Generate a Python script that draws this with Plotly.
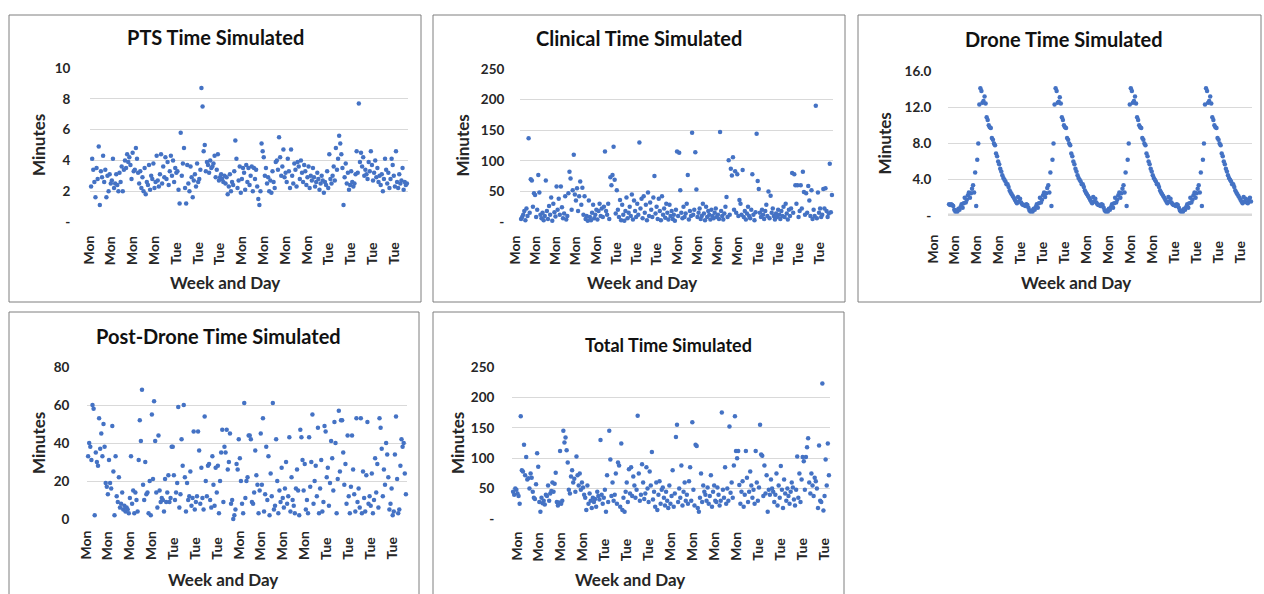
import plotly.graph_objects as go

W, H = 1264, 594          # reference picture size
TOP_PAD = 8               # vertical offset observed in the photographed output
HF = 610                  # figure height (output is squeezed to H - TOP_PAD rows)

# ---------------- data ----------------
pts_minutes = [
    2.3, 4.1, 3.4, 2.6, 1.6, 3.5, 2.8, 4.9, 1.1, 3.3, 2.9, 4.3, 2.6, 3.4, 1.6, 3.0, 2.0, 3.1, 2.5, 2.7,
    4.1, 2.2, 2.5, 3.1, 2.4, 2.0, 3.2, 2.6, 3.6, 2.0, 3.4, 4.0, 3.5, 4.4, 3.9, 4.2, 3.7, 2.8, 4.5, 3.3,
    3.4, 4.8, 4.1, 3.2, 2.5, 3.3, 2.2, 2.9, 2.0, 3.5, 1.8, 2.6, 2.4, 3.7, 2.1, 3.0, 2.8, 3.8, 2.2, 2.6,
    4.3, 2.7, 2.3, 3.1, 4.4, 2.5, 3.6, 2.9, 4.2, 2.8, 3.9, 2.4, 3.3, 4.3, 3.0, 4.0, 2.6, 3.5, 3.2, 3.3,
    2.1, 1.2, 5.8, 3.0, 3.8, 4.8, 2.2, 1.2, 3.7, 2.5, 2.0, 3.6, 2.9, 1.6, 2.7, 3.1, 2.3, 3.8, 2.6, 2.8,
    3.4, 8.7, 7.5, 4.6, 5.0, 3.3, 3.9, 3.7, 3.2, 4.0, 3.5, 3.6, 3.8, 4.3, 2.9, 3.4, 4.4, 2.7, 2.9, 3.1,
    2.8, 2.6, 3.0, 2.5, 2.9, 1.8, 2.3, 3.1, 2.0, 2.6, 2.4, 3.3, 5.3, 4.1, 2.2, 2.7, 3.6, 1.9, 2.8, 3.5,
    3.2, 2.1, 3.7, 2.6, 3.5, 2.4, 3.0, 3.6, 2.0, 3.5, 2.8, 3.4, 2.3, 1.5, 1.1, 2.0, 5.1, 4.6, 4.2, 3.0,
    3.5, 2.5, 2.9, 2.0, 2.7, 1.9, 3.3, 2.6, 2.2, 3.9, 4.0, 3.4, 5.5, 4.2, 3.0, 3.6, 4.7, 2.9, 3.2, 2.6,
    4.1, 3.3, 2.2, 4.7, 3.0, 2.5, 3.8, 3.4, 2.3, 3.9, 3.6, 2.8, 4.0, 3.2, 2.6, 3.7, 3.3, 2.4, 2.9, 3.6,
    2.2, 3.0, 2.7, 3.5, 2.9, 2.3, 2.6, 3.2, 2.8, 2.1, 2.5, 3.0, 2.7, 1.9, 2.6, 2.4, 3.3, 2.2, 4.4, 2.8,
    2.5, 3.0, 3.6, 2.7, 4.8, 3.4, 4.1, 5.6, 5.1, 4.4, 3.5, 1.1, 2.9, 3.8, 2.5, 3.2, 2.1, 2.4, 3.3, 2.6,
    2.3, 2.5, 3.1, 4.6, 3.2, 7.7, 3.9, 4.5, 3.6, 4.2, 3.0, 3.4, 3.1, 2.8, 3.9, 3.3, 4.6, 3.7, 2.7, 3.2,
    4.0, 2.9, 3.5, 2.6, 3.0, 2.4, 3.1, 2.0, 2.8, 4.1, 3.4, 2.5, 3.2, 2.2, 2.8, 4.1, 3.7, 3.0, 2.3, 4.6,
    2.6, 2.2, 3.1, 2.5, 2.7, 3.5, 2.1, 2.6, 2.4, 2.5,
]

clinical_minutes = [
    5, 8, 12, 18, 3, 22, 10, 137, 15, 70, 68, 25, 47, 44, 8, 20, 77, 48, 12, 6,
    15, 3, 10, 68, 18, 5, 26, 12, 40, 2, 30, 16, 9, 58, 20, 38, 12, 58, 24, 6,
    14, 42, 4, 10, 47, 82, 71, 20, 52, 110, 45, 35, 55, 18, 42, 66, 28, 56, 12, 42,
    5, 10, 2, 35, 8, 3, 15, 28, 6, 12, 20, 4, 18, 30, 10, 22, 8, 25, 115, 18,
    12, 30, 5, 73, 60, 77, 123, 69, 14, 52, 20, 8, 36, 3, 28, 12, 2, 18, 40, 6,
    15, 25, 10, 45, 4, 35, 18, 8, 30, 12, 130, 22, 38, 6, 42, 15, 28, 3, 48, 10,
    32, 20, 8, 40, 75, 14, 25, 5, 38, 18, 3, 42, 12, 22, 7, 30, 15, 4, 28, 10,
    18, 5, 12, 2, 20, 115, 10, 113, 52, 15, 6, 25, 8, 14, 30, 77, 4, 18, 10, 146,
    12, 20, 114, 53, 8, 15, 22, 5, 10, 30, 14, 3, 25, 8, 18, 12, 4, 20, 10, 6,
    15, 22, 8, 12, 5, 147, 18, 10, 4, 14, 25, 41, 8, 101, 12, 87, 76, 106, 20, 83,
    15, 78, 10, 36, 30, 12, 85, 8, 18, 4, 14, 25, 10, 6, 20, 78, 12, 3, 16, 144,
    67, 54, 15, 8, 20, 12, 5, 18, 28, 10, 50, 6, 43, 15, 22, 10, 4, 14, 8, 20,
    12, 5, 18, 10, 25, 8, 30, 14, 4, 20, 10, 22, 80, 15, 78, 60, 30, 60, 8, 18,
    60, 22, 82, 49, 12, 47, 15, 59, 35, 10, 52, 5, 20, 10, 190, 6, 48, 15, 22, 8,
    12, 54, 22, 55, 18, 8, 14, 95, 16, 44,
]

drone_minutes = [
    1.3, 1.2, 1.3, 1.2, 1.1, 0.7,
    # cycle 1
    0.5, 0.6, 0.5, 0.8, 0.7, 1.0, 1.3, 0.9, 1.4, 2.0, 1.5, 1.8, 2.3, 2.6, 2.0, 2.5, 3.0, 3.4,
    2.6, 4.8, 1.1, 6.2, 8.0, 12.3, 14.1, 13.8,
    12.5, 12.7, 13.2, 12.4, 10.9, 10.6, 10.0, 9.8, 9.7, 8.6, 8.4, 8.0, 7.8, 6.9, 6.6,
    6.0, 5.7, 5.2, 4.9, 4.5, 4.2, 4.0, 3.8, 3.5, 3.5, 3.2, 2.8, 2.6, 2.4, 2.2,
    2.0, 1.8, 1.6, 1.4, 2.1, 1.6, 1.9, 1.5, 1.3, 1.2, 1.2, 1.1, 1.3, 1.2, 0.9, 0.6,
    # cycle 2
    0.5, 0.6, 0.5, 0.8, 0.7, 1.0, 1.3, 0.9, 1.4, 2.0, 1.5, 1.8, 2.3, 2.6, 2.1, 2.5, 3.1, 3.4,
    2.6, 4.8, 1.1, 6.2, 8.0, 12.3, 14.1, 13.8,
    12.5, 12.6, 13.1, 12.4, 10.9, 10.6, 10.0, 9.8, 9.7, 8.6, 8.4, 8.0, 7.8, 6.9, 6.6,
    6.0, 5.7, 5.2, 4.9, 4.5, 4.2, 4.0, 3.8, 3.5, 3.5, 3.2, 2.8, 2.6, 2.4, 2.2,
    2.0, 1.8, 1.6, 1.4, 2.1, 1.6, 1.9, 1.5, 1.3, 1.2, 1.2, 1.1, 1.3, 1.2, 0.9, 0.6,
    # cycle 3
    0.5, 0.6, 0.5, 0.8, 0.7, 1.0, 1.3, 0.9, 1.4, 2.0, 1.5, 1.8, 2.3, 2.6, 2.0, 2.5, 3.0, 3.4,
    2.6, 4.8, 1.1, 6.2, 8.0, 12.3, 14.1, 13.8,
    12.5, 12.7, 13.2, 12.4, 10.9, 10.6, 10.0, 9.8, 9.7, 8.6, 8.4, 8.0, 7.8, 6.9, 6.6,
    6.0, 5.7, 5.2, 4.9, 4.5, 4.2, 4.0, 3.8, 3.5, 3.5, 3.2, 2.8, 2.6, 2.4, 2.2,
    2.0, 1.8, 1.6, 1.4, 2.1, 1.6, 1.9, 1.5, 1.3, 1.2, 1.2, 1.1, 1.3, 1.2, 0.9, 0.6,
    # cycle 4 (partial)
    0.5, 0.6, 0.5, 0.8, 0.7, 1.0, 1.3, 0.9, 1.4, 2.0, 1.5, 1.8, 2.3, 2.6, 2.0, 2.5, 3.0, 3.4,
    2.6, 4.8, 1.1, 6.2, 8.0, 12.3, 14.1, 13.8,
    12.5, 12.7, 13.2, 12.4, 10.9, 10.6, 10.0, 9.8, 9.7, 8.6, 8.4, 8.0, 7.8, 6.9, 6.6,
    6.0, 5.7, 5.2, 4.9, 4.5, 4.2, 4.0, 3.8, 3.5, 3.5, 3.2, 2.8, 2.6, 2.4, 2.2,
    2.0, 1.8, 1.6, 1.4, 2.1, 1.6, 1.9, 1.5, 1.4, 1.8, 2.0, 1.6,
]

postdrone_minutes = [
    33, 40, 38, 31, 60, 58, 2, 35, 30, 28, 53, 37, 45, 33, 50, 38, 19, 17, 13, 31,
    19, 16, 49, 25, 2, 33, 12, 9, 22, 6, 8, 14, 5, 7, 4, 6, 5, 3, 11, 33,
    8, 15, 3, 14, 10, 4, 31, 52, 41, 68, 18, 10, 30, 13, 14, 3, 20, 2, 55, 21,
    62, 41, 14, 6, 44, 15, 9, 11, 10, 4, 21, 9, 14, 23, 9, 11, 38, 38, 23, 10,
    14, 19, 59, 6, 13, 42, 28, 60, 22, 4, 19, 10, 12, 25, 7, 11, 46, 5, 9, 12,
    46, 36, 8, 27, 11, 5, 54, 20, 12, 28, 29, 10, 6, 33, 18, 7, 27, 14, 28, 3,
    20, 35, 47, 9, 38, 35, 47, 26, 30, 45, 8, 10, 0, 2, 5, 29, 26, 42, 32, 20,
    8, 3, 61, 11, 20, 22, 44, 44, 42, 9, 8, 14, 36, 23, 18, 3, 15, 45, 18, 53,
    4, 13, 38, 10, 33, 2, 24, 12, 61, 5, 7, 42, 20, 3, 15, 9, 27, 11, 6, 16,
    30, 8, 12, 43, 4, 22, 10, 7, 3, 16, 26, 15, 2, 47, 43, 31, 15, 29, 5, 10,
    3, 43, 17, 30, 55, 8, 20, 28, 12, 48, 3, 16, 31, 4, 9, 49, 46, 22, 27, 7,
    19, 41, 32, 15, 51, 40, 3, 21, 57, 25, 52, 52, 35, 18, 29, 8, 44, 12, 3, 17,
    44, 26, 13, 4, 53, 9, 16, 6, 53, 3, 25, 11, 4, 23, 51, 8, 12, 7, 24, 3,
    10, 32, 14, 29, 6, 53, 48, 37, 12, 26, 18, 40, 34, 22, 5, 8, 16, 2, 4, 34,
    54, 21, 3, 5, 28, 42, 38, 40, 24, 13,
]

total_minutes = [
    45, 40, 50, 48, 42, 38, 25, 169, 80, 78, 122, 72, 102, 65, 67, 50, 75, 68, 45, 35,
    33, 57, 108, 86, 28, 12, 35, 26, 30, 24, 40, 38, 55, 30, 42, 46, 60, 45, 58, 76,
    28, 22, 27, 112, 25, 30, 145, 126, 134, 113, 93, 48, 42, 70, 80, 60, 66, 45, 103, 72,
    55, 75, 48, 60, 52, 40, 35, 15, 55, 25, 42, 30, 18, 35, 28, 33, 20, 45, 38, 32,
    130, 40, 25, 35, 48, 12, 72, 28, 145, 98, 38, 60, 30, 40, 75, 25, 93, 88, 20, 124,
    15, 35, 12, 45, 60, 28, 82, 42, 85, 38, 70, 55, 35, 48, 170, 75, 30, 40, 90, 60,
    33, 42, 85, 50, 28, 78, 55, 110, 32, 45, 20, 60, 15, 40, 62, 25, 48, 52, 35, 22,
    45, 30, 18, 55, 25, 38, 80, 20, 42, 135, 155, 28, 50, 35, 88, 22, 45, 60, 30, 40,
    25, 62, 85, 30, 159, 48, 22, 122, 120, 18, 12, 35, 75, 28, 55, 45, 40, 30, 52, 25,
    38, 72, 20, 45, 55, 30, 28, 52, 40, 22, 30, 175, 48, 35, 85, 25, 50, 30, 152, 43,
    60, 35, 88, 169, 112, 100, 112, 56, 25, 45, 62, 20, 40, 112, 68, 28, 45, 78, 55, 35,
    48, 25, 112, 60, 30, 52, 155, 106, 104, 38, 88, 42, 72, 12, 48, 40, 65, 50, 45, 28,
    40, 75, 22, 55, 35, 87, 48, 18, 65, 42, 30, 50, 38, 25, 45, 60, 52, 32, 22, 48,
    103, 35, 75, 28, 65, 102, 95, 48, 102, 118, 133, 60, 42, 75, 55, 38, 68, 62, 50, 18,
    121, 30, 28, 223, 14, 38, 98, 55, 124, 72,
]

pts_day_labels = ["Mon"] * 4 + ["Tue"] * 3 + ["Mon"] * 4 + ["Tue"] * 4
clinical_day_labels = ["Mon"] * 5 + ["Tue"] * 3 + ["Mon"] * 4 + ["Tue"] * 4
drone_day_labels = ["Mon"] * 4 + ["Tue"] * 3 + ["Mon"] * 4 + ["Tue"] * 4
postdrone_day_labels = ["Mon"] * 4 + ["Tue"] * 3 + ["Mon"] * 4 + ["Tue"] * 4
total_day_labels = ["Mon"] * 4 + ["Tue"] * 3 + ["Mon"] * 4 + ["Tue"] * 4

pts_yticks = [0, 2, 4, 6, 8, 10]
pts_yticktext = ["-", "2", "4", "6", "8", "10"]
clinical_yticks = [0, 50, 100, 150, 200, 250]
clinical_yticktext = ["-", "50", "100", "150", "200", "250"]
drone_yticks = [0, 4, 8, 12, 16]
drone_yticktext = ["-", "4.0", "8.0", "12.0", "16.0"]
postdrone_yticks = [0, 20, 40, 60, 80]
postdrone_yticktext = ["0", "20", "40", "60", "80"]
total_yticks = [0, 50, 100, 150, 200, 250]
total_yticktext = ["-", "50", "100", "150", "200", "250"]

# ---------------- layout helpers ----------------
FONT = "Lato"
DOT = "#4472C4"
GRID = "#D9D9D9"
TXT = "#262626"


def pxx(x):
    return x / W


def pxy(y):
    # reference pixel row -> paper fraction, compensating the observed
    # vertical offset/squeeze of the photographed page
    return 1 - (y - TOP_PAD) / (H)


panels = [
    dict(name="PTS Time Simulated", vals=pts_minutes, days=pts_day_labels,
         yt=pts_yticks, ytt=pts_yticktext, yr=[0, 10],
         box=(9, 15, 421, 302), plot=(90, 68, 408, 222), title_c=(215, 37), title_size=20,
         ytitle_x=38, xtitle=(225, 282), lab_bottom=267, lab0=88, lab_step=21.8, ticklen=16),
    dict(name="Clinical Time Simulated", vals=clinical_minutes, days=clinical_day_labels,
         yt=clinical_yticks, ytt=clinical_yticktext, yr=[0, 250],
         box=(433, 15, 845, 302), plot=(520, 69, 833, 222), title_c=(639, 38), title_size=20,
         ytitle_x=462, xtitle=(642, 282), lab_bottom=267, lab0=514, lab_step=20.27, ticklen=12),
    dict(name="Drone Time Simulated", vals=drone_minutes, days=drone_day_labels,
         yt=drone_yticks, ytt=drone_yticktext, yr=[0, 16],
         box=(858, 15, 1261, 302), plot=(948, 71, 1252, 216), title_c=(1064, 39), title_size=20,
         ytitle_x=884, xtitle=(1076, 282), lab_bottom=266, lab0=932, lab_step=21.93, ticklen=13),
    dict(name="Post-Drone Time Simulated", vals=postdrone_minutes, days=postdrone_day_labels,
         yt=postdrone_yticks, ytt=postdrone_yticktext, yr=[0, 80],
         box=(9, 312, 419, 625), plot=(87, 367, 407, 519), title_c=(218, 336), title_size=20,
         ytitle_x=38, xtitle=(223, 579), lab_bottom=562, lab0=85, lab_step=21.86, ticklen=14),
    dict(name="Total Time Simulated", vals=total_minutes, days=total_day_labels,
         yt=total_yticks, ytt=total_yticktext, yr=[0, 250],
         box=(433, 312, 844, 625), plot=(512, 367, 830, 519), title_c=(668, 345), title_size=18,
         ytitle_x=457, xtitle=(630, 579), lab_bottom=563, lab0=516, lab_step=21.93, ticklen=14),
]

fig = go.Figure()
annotations = []
shapes = []

for i, p in enumerate(panels, start=1):
    xa = "x" if i == 1 else f"x{i}"
    ya = "y" if i == 1 else f"y{i}"
    xl = "xaxis" if i == 1 else f"xaxis{i}"
    yl = "yaxis" if i == 1 else f"yaxis{i}"
    n = len(p["vals"])
    x0, y0, x1, y1 = p["plot"]

    fig.add_trace(go.Scatter(
        x=list(range(n)), y=p["vals"], mode="markers",
        marker=dict(color=DOT, size=4.5, line=dict(width=0)),
        xaxis=xa, yaxis=ya, showlegend=False, cliponaxis=False,
        hoverinfo="y",
    ))

    xr = [-1, n]
    fig.layout[xl] = dict(domain=[pxx(x0), pxx(x1)], range=xr, anchor=ya,
                          showgrid=False, zeroline=False, showline=False,
                          showticklabels=False, ticks="", fixedrange=True)
    fig.layout[yl] = dict(domain=[pxy(y1), pxy(y0)], range=p["yr"], anchor=xa,
                          tickmode="array", tickvals=p["yt"], ticktext=p["ytt"],
                          showgrid=True, gridcolor=GRID, gridwidth=1,
                          zeroline=False, showline=False,
                          ticks="outside", ticklen=p["ticklen"], tickcolor="rgba(0,0,0,0)",
                          tickfont=dict(family=FONT, size=13.5, color=TXT, weight="bold"),
                          fixedrange=True)

    bx0, by0, bx1, by1 = p["box"]
    shapes.append(dict(type="rect", xref="paper", yref="paper",
                       x0=pxx(bx0), x1=pxx(bx1), y0=pxy(by1), y1=pxy(by0),
                       line=dict(color="#7F7F7F", width=1), layer="below"))

    annotations.append(dict(text=p["name"], xref="paper", yref="paper",
                            x=pxx(p["title_c"][0]), y=pxy(p["title_c"][1]),
                            xanchor="center", yanchor="middle", showarrow=False,
                            font=dict(family=FONT, size=p["title_size"], color="#111111", weight="bold")))
    annotations.append(dict(text="Minutes", xref="paper", yref="paper",
                            x=pxx(p["ytitle_x"]), y=pxy((y0 + y1) / 2),
                            xanchor="center", yanchor="middle", textangle=-90, showarrow=False,
                            font=dict(family=FONT, size=17, color=TXT, weight="bold")))
    annotations.append(dict(text="Week and Day", xref="paper", yref="paper",
                            x=pxx(p["xtitle"][0]), y=pxy(p["xtitle"][1]),
                            xanchor="center", yanchor="middle", showarrow=False,
                            font=dict(family=FONT, size=17, color=TXT, weight="bold")))
    for k, lab in enumerate(p["days"]):
        lx = p["lab0"] + k * p["lab_step"]
        annotations.append(dict(text=lab, xref="paper", yref="paper",
                                x=pxx(lx), y=pxy(p["lab_bottom"]),
                                xanchor="center", yanchor="bottom", textangle=-90,
                                showarrow=False,
                                font=dict(family=FONT, size=14, color=TXT, weight="bold")))

# thick grey baseline in the drone panel
shapes.append(dict(type="line", xref="x3 domain", yref="y3", x0=0, x1=1, y0=0, y1=0,
                   line=dict(color="#D9D9D9", width=5), layer="below"))

fig.update_layout(
    width=W - 16, height=HF, margin=dict(l=0, r=0, t=0, b=0),
    paper_bgcolor="white", plot_bgcolor="white",
    annotations=annotations, shapes=shapes,
    font=dict(family=FONT, color=TXT),
)

fig.write_html(
    "out.html",
    config={"displayModeBar": False},
    post_script=(
        "document.documentElement.style.margin='0';"
        "document.body.style.margin='0';"
        "document.body.style.overflow='hidden';"
        "var gd=document.getElementById('{plot_id}');"
        "gd.style.width='%dpx';gd.style.height='%dpx';"
        "Plotly.relayout(gd,{width:%d,height:%d});" % (W, HF, W, HF)
    ),
)
